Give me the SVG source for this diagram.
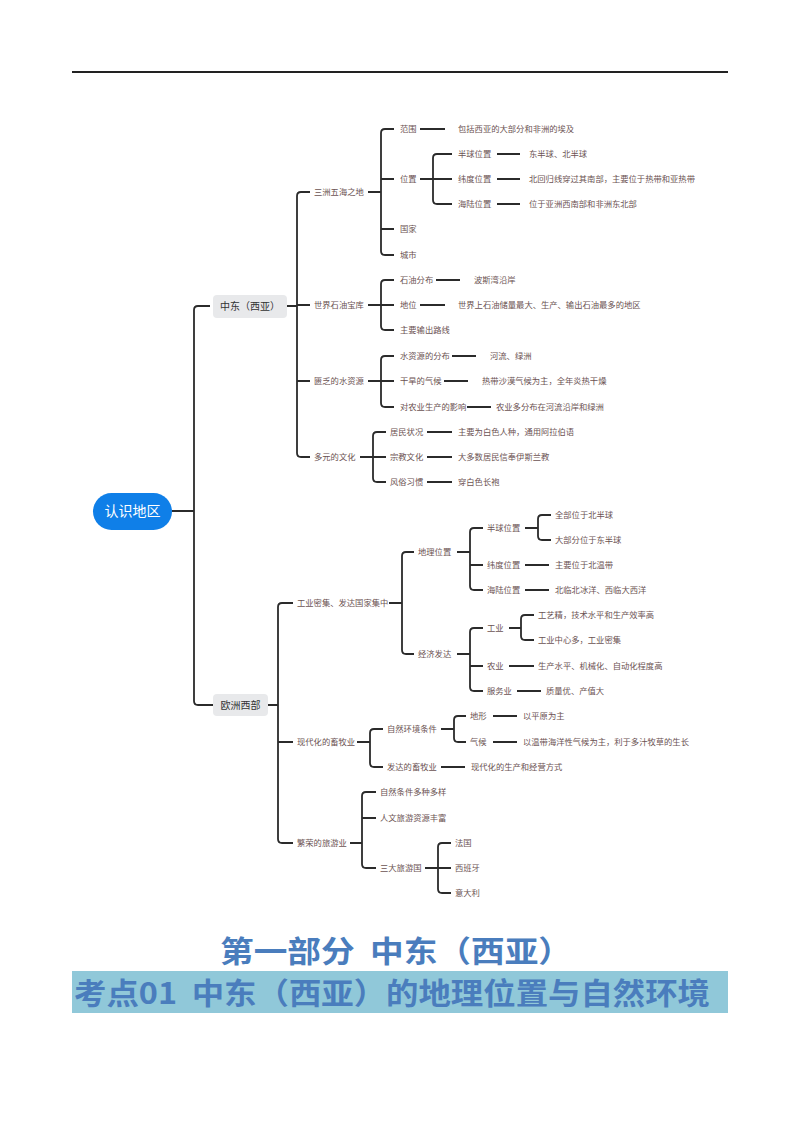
<svg xmlns="http://www.w3.org/2000/svg" width="800" height="1132" viewBox="0 0 800 1132">
<style>
.c{fill:none;stroke:#2b2b2b;stroke-width:1.8}
.t{font-family:"Noto Sans CJK SC",sans-serif;font-size:8.3px;fill:#6b5252}
.m{font-family:"Noto Sans CJK SC",sans-serif;font-size:10px;fill:#333}
.h{font-family:"Noto Sans CJK SC",sans-serif;font-weight:bold;fill:#4a7dbd}
</style>
<rect width="800" height="1132" fill="#fff"/>
<line x1="72" y1="72" x2="728" y2="72" stroke="#222" stroke-width="2"/>
<g id="connectors" class="c">
<path d="M172 511H194M210 306H198Q194 306 194 310V701Q194 705 198 705H213"/>
<path d="M287 306H297M310 192H301Q297 192 297 196V453Q297 457 301 457H310M297 305H310M297 381H310"/>
<path d="M368 192H381M394 129H385Q381 129 381 133V251Q381 255 385 255H394M381 179H394M381 229H394"/>
<path d="M420 129H445M420 179H433M452 154H437Q433 154 433 158V200Q433 204 437 204H452M433 179H452"/>
<path d="M497 154H520M497 179H520M497 204H520"/>
<path d="M368 305H381M394 280H385Q381 280 381 284V326Q381 330 385 330H394M381 305H394"/>
<path d="M436 280H460M420 305H445"/>
<path d="M368 381H381M394 356H385Q381 356 381 360V403Q381 407 385 407H394M381 381H394"/>
<path d="M452 356H476M444 381H468M467 407H491"/>
<path d="M360 457H373M386 432H377Q373 432 373 436V478Q373 482 377 482H386M373 457H386"/>
<path d="M427 432H452M427 457H452M427 482H452"/>
<path d="M268 705H278M293 603H282Q278 603 278 607V839Q278 843 282 843H293M278 742H293"/>
<path d="M389 603H402M414 552H406Q402 552 402 556V650Q402 654 406 654H414"/>
<path d="M457 552H470M483 528H474Q470 528 470 532V586Q470 590 474 590H483M470 565H483"/>
<path d="M525 528H538M551 515H542Q538 515 538 519V536Q538 540 542 540H551"/>
<path d="M525 565H549M525 590H549"/>
<path d="M457 654H470M483 628H474Q470 628 470 632V687Q470 691 474 691H483M470 666H483"/>
<path d="M509 628H521M534 615H525Q521 615 521 619V636Q521 640 525 640H534"/>
<path d="M509 666H534M517 691H541"/>
<path d="M357 742H370M383 729H374Q370 729 370 733V763Q370 767 374 767H383"/>
<path d="M441 729H454M466 716H458Q454 716 454 720V738Q454 742 458 742H466"/>
<path d="M493 716H517M493 742H517M441 767H465"/>
<path d="M350 843H362M376 792H366Q362 792 362 796V864Q362 868 366 868H376M362 818H376"/>
<path d="M425 868H438M451 843H442Q438 843 438 847V889Q438 893 442 893H451M438 868H451"/>
</g>
<g id="root"><rect x="93" y="493" width="79" height="37" rx="18.5" fill="#0f7fe8"/><text x="132.5" y="516" text-anchor="middle" font-family="Noto Sans CJK SC,sans-serif" font-size="14" fill="#fff">认识地区</text></g>
<g id="n-zd"><rect x="213" y="295" width="74" height="23" rx="4" fill="#e8e9eb"/><text x="250" y="310" text-anchor="middle" class="m">中东（西亚）</text></g>
<g id="n-oz"><rect x="213" y="694" width="55" height="22" rx="4" fill="#e8e9eb"/><text x="240.5" y="709" text-anchor="middle" class="m">欧洲西部</text></g>
<g id="labels" class="t">
<text x="314" y="195">三洲五海之地</text>
<text x="400" y="132">范围</text><text x="458" y="132">包括西亚的大部分和非洲的埃及</text>
<text x="400" y="182">位置</text>
<text x="458" y="157">半球位置</text><text x="529" y="157">东半球、北半球</text>
<text x="458" y="182">纬度位置</text><text x="529" y="182">北回归线穿过其南部，主要位于热带和亚热带</text>
<text x="458" y="207">海陆位置</text><text x="529" y="207">位于亚洲西南部和非洲东北部</text>
<text x="400" y="232">国家</text><text x="400" y="258">城市</text>
<text x="314" y="308">世界石油宝库</text>
<text x="400" y="283">石油分布</text><text x="474" y="283">波斯湾沿岸</text>
<text x="400" y="308">地位</text><text x="458" y="308">世界上石油储量最大、生产、输出石油最多的地区</text>
<text x="400" y="333">主要输出路线</text>
<text x="314" y="384">匮乏的水资源</text>
<text x="400" y="359">水资源的分布</text><text x="490" y="359">河流、绿洲</text>
<text x="400" y="384">干旱的气候</text><text x="482" y="384">热带沙漠气候为主，全年炎热干燥</text>
<text x="400" y="410">对农业生产的影响</text><text x="496" y="410">农业多分布在河流沿岸和绿洲</text>
<text x="314" y="460">多元的文化</text>
<text x="390" y="435">居民状况</text><text x="458" y="435">主要为白色人种，通用阿拉伯语</text>
<text x="390" y="460">宗教文化</text><text x="458" y="460">大多数居民信奉伊斯兰教</text>
<text x="390" y="485">风俗习惯</text><text x="458" y="485">穿白色长袍</text>
<text x="297" y="606">工业密集、发达国家集中</text>
<text x="418" y="555">地理位置</text>
<text x="487" y="531">半球位置</text><text x="555" y="518">全部位于北半球</text><text x="555" y="543">大部分位于东半球</text>
<text x="487" y="568">纬度位置</text><text x="555" y="568">主要位于北温带</text>
<text x="487" y="593">海陆位置</text><text x="555" y="593">北临北冰洋、西临大西洋</text>
<text x="418" y="657">经济发达</text>
<text x="487" y="631">工业</text><text x="538" y="618">工艺精，技术水平和生产效率高</text><text x="538" y="643">工业中心多，工业密集</text>
<text x="487" y="669">农业</text><text x="538" y="669">生产水平、机械化、自动化程度高</text>
<text x="487" y="694">服务业</text><text x="546" y="694">质量优、产值大</text>
<text x="297" y="745">现代化的畜牧业</text>
<text x="387" y="732">自然环境条件</text>
<text x="470" y="719">地形</text><text x="523" y="719">以平原为主</text>
<text x="470" y="745">气候</text><text x="523" y="745">以温带海洋性气候为主，利于多汁牧草的生长</text>
<text x="387" y="770">发达的畜牧业</text><text x="471" y="770">现代化的生产和经营方式</text>
<text x="297" y="846">繁荣的旅游业</text>
<text x="380" y="795">自然条件多种多样</text><text x="380" y="821">人文旅游资源丰富</text><text x="380" y="871">三大旅游国</text>
<text x="455" y="846">法国</text><text x="455" y="871">西班牙</text><text x="455" y="896">意大利</text>
</g>
<g id="titles">
<text x="220" y="962" class="h" font-size="30" textLength="352" lengthAdjust="spacingAndGlyphs" xml:space="preserve">第一部分  中东（西亚）</text>
<rect x="72" y="971" width="656" height="42" fill="#90c8d9"/>
<text x="74" y="1004" class="h" font-size="30" textLength="636" lengthAdjust="spacingAndGlyphs" xml:space="preserve">考点01  中东（西亚）的地理位置与自然环境</text>
</g>
</svg>
